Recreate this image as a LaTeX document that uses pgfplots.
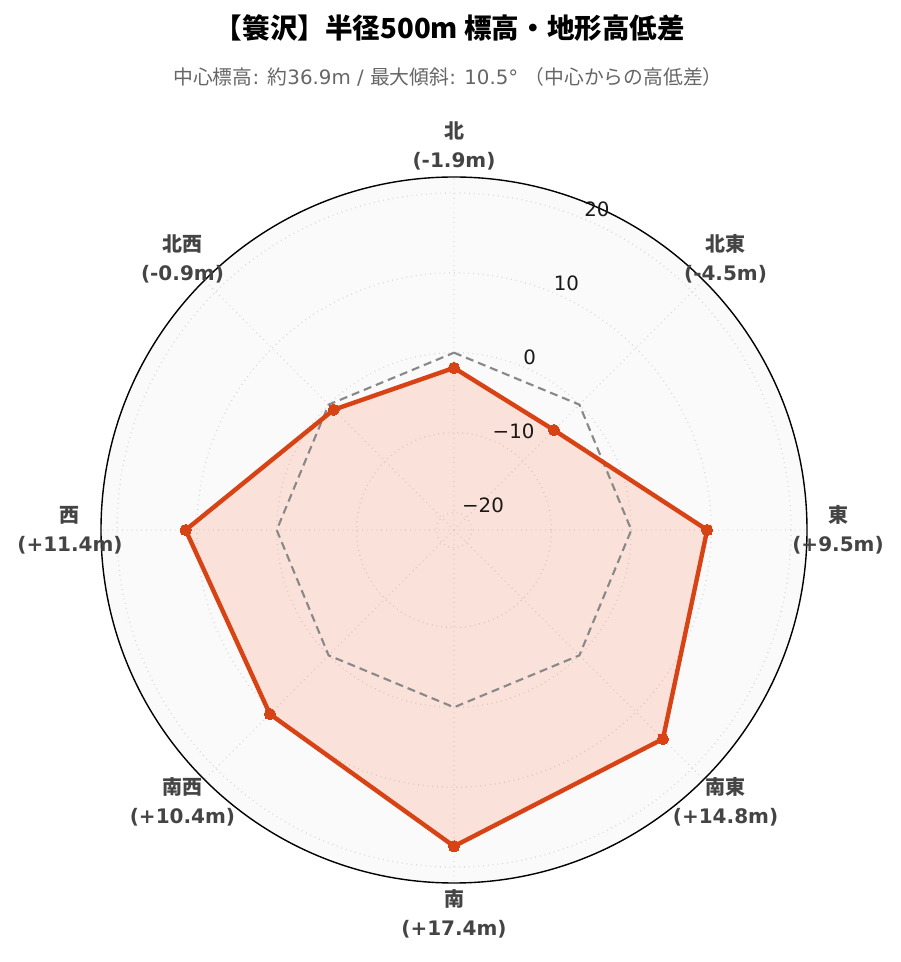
\documentclass[border=0pt]{standalone}
\usepackage{fontspec}
\setmainfont{Noto Sans CJK JP}
\newfontfamily\dv{DejaVu Sans}
\usepackage{pgfplots}
\usepackage{pgfplotstable}
\usepgfplotslibrary{polar}
\pgfplotsset{compat=1.18}
\definecolor{lineC}{HTML}{D84315}
\definecolor{fillC}{HTML}{FF5722}
\definecolor{labC}{HTML}{444444}
\definecolor{subC}{HTML}{666666}
\definecolor{gridC}{HTML}{D9D9D9}
\definecolor{refC}{HTML}{888888}
\definecolor{bgC}{HTML}{FAFAFA}

\pgfplotstableread{
ang v
90 -1.9
45 -4.5
0 9.5
-45 14.8
-90 17.4
-135 10.4
180 11.4
135 -0.9
90 -1.9
}\elev

\pgfplotstableread{
ang v
90 0
45 0
0 0
-45 0
-90 0
-135 0
180 0
135 0
90 0
}\refline

\newcommand{\lab}[2]{\bfseries #1\\{\dv\bfseries (#2m)}}

\begin{document}
\begin{tikzpicture}
\useasboundingbox (0,0) rectangle (450pt,481pt);
\node[font=\bfseries\fontsize{13.8}{16}\selectfont, text=black] at (225pt,467pt) {【簑沢】半径500m 標高・地形高低差};
\node[font=\fontsize{9.9}{12}\selectfont, text=subC] at (224pt,442.5pt) {中心標高{\dv: }約{\dv 36.9m / }最大傾斜{\dv: 10.5° }（中心からの高低差）};
\begin{polaraxis}[
  at={(227pt,216pt)}, anchor=center,
  width=353pt, height=353pt, scale only axis,
  clip=false,
  xmin=0, xmax=360, ymin=0, ymax=44.2,
  xtick={0,45,...,315},
  xticklabels={
    {\lab{東}{+9.5}},
    {\lab{北東}{-4.5}},
    {\lab{北}{-1.9}},
    {\lab{北西}{-0.9}},
    {\lab{西}{+11.4}},
    {\lab{南西}{+10.4}},
    {\lab{南}{+17.4}},
    {\lab{南東}{+14.8}}},
  xticklabel style={font=\fontsize{10}{14.5}\selectfont, text=labC, align=center, anchor=center,
    xshift={15.5pt*cos(\tick)}, yshift={15.5pt*sin(\tick)}},
  ytick={2.2,12.2,22.2,32.2,42.2},
  yticklabels={},
  major tick length=0pt,
  xmajorgrids, ymajorgrids,
  grid style={gridC, dotted, line width=0.7pt},
  x axis line style={black, line width=0.7pt},
  y axis line style={draw=none},
  axis background/.style={fill=bgC},
]
\addplot[fill=fillC, fill opacity=0.15, draw=none, forget plot] table[x=ang, y expr=\thisrow{v}+22.2] {\elev};
\addplot[refC, line width=1.05pt, dash pattern=on 4pt off 2.5pt, forget plot] table[x=ang, y expr=\thisrow{v}+22.2] {\refline};
\addplot[lineC, line width=2.2pt, line join=round, mark=*, mark size=2.8pt, mark options={fill=lineC, draw=lineC, line width=0pt}] table[x=ang, y expr=\thisrow{v}+22.2] {\elev};
\foreach \r/\t in {2.2/{−20},12.2/{−10},22.2/{0},32.2/{10},42.2/{20}}{
  \edef\temp{\noexpand\node[anchor=south west, inner sep=0.5pt, font=\noexpand\dv\noexpand\fontsize{9.9}{11}\noexpand\selectfont, text=black!90] at (axis cs:67.5,\r) {\t};}
  \temp
}
\end{polaraxis}
\end{tikzpicture}
\end{document}
